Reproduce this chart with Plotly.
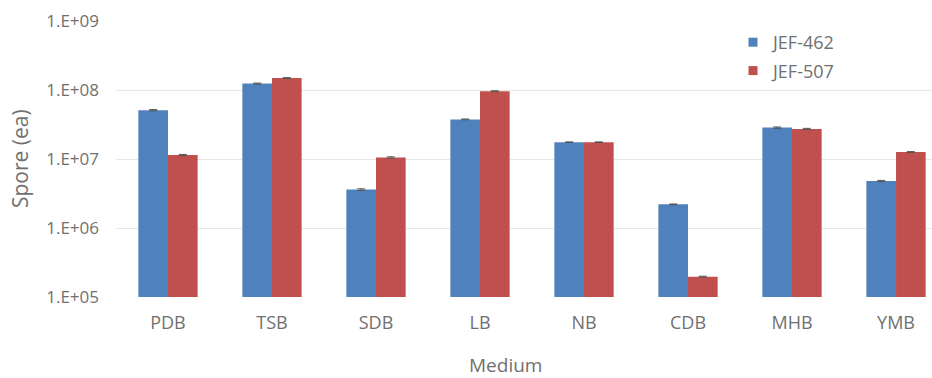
import plotly.graph_objects as go

# Spore counts per culture medium for two strains
media = ["PDB", "TSB", "SDB", "LB", "NB", "CDB", "MHB", "YMB"]
jef_462 = [5.1e7, 1.24e8, 3.6e6, 3.75e7, 1.75e7, 2.2e6, 2.85e7, 4.8e6]
jef_507 = [1.14e7, 1.49e8, 1.05e7, 9.6e7, 1.75e7, 1.97e5, 2.72e7, 1.26e7]
err_462 = [1.0e6, 2.0e6, 1.0e5, 5.0e5, 2.0e5, 3.0e4, 6.0e5, 1.0e5]
err_507 = [2.5e5, 2.0e6, 2.5e5, 1.5e6, 2.0e5, 3.0e3, 6.0e5, 2.0e5]

tick_vals = [1e5, 1e6, 1e7, 1e8, 1e9]
tick_text = ["1.E+05", "1.E+06", "1.E+07", "1.E+08", "1.E+09"]

BLUE = "#4F81BD"
RED = "#C0504D"
GREY_TXT = "#707070"
FONT = "Open Sans"

W, H = 932, 378
L, R, T, B = 116, 0, 21, 81
PW, PH = W - L - R, H - T - B

fig = go.Figure()
fig.add_trace(go.Bar(
    x=media, y=jef_462, name="JEF-462", marker_color=BLUE, marker_line_width=0,
    error_y=dict(type="data", array=err_462, color="#555555", thickness=1, width=4),
    showlegend=False,
))
fig.add_trace(go.Bar(
    x=media, y=jef_507, name="JEF-507", marker_color=RED, marker_line_width=0,
    error_y=dict(type="data", array=err_507, color="#555555", thickness=1, width=4),
    showlegend=False,
))
# legend keys with small square swatches
for name, col in [("JEF-462", BLUE), ("JEF-507", RED)]:
    fig.add_trace(go.Scatter(
        x=[None], y=[None], mode="markers", name=name, legendgroup=name,
        marker=dict(symbol="square", size=9, color=col),
    ))

fig.update_layout(
    width=W, height=H,
    margin=dict(l=L, r=R, t=T, b=B),
    paper_bgcolor="white", plot_bgcolor="white",
    barmode="group", bargap=0.43, bargroupgap=0,
    font=dict(family=FONT, color=GREY_TXT, size=17),
    legend=dict(
        x=(733 - L) / PW, y=1.0 - 3 / PH, xanchor="left", yanchor="top",
        font=dict(size=18, color=GREY_TXT),
        itemwidth=30, tracegroupgap=2, bgcolor="rgba(0,0,0,0)",
    ),
    annotations=[
        dict(text="Medium", xref="paper", yref="paper",
             x=(505 - L) / PW, y=-(365 - (H - B)) / PH,
             xanchor="center", yanchor="middle", showarrow=False,
             font=dict(size=19, color=GREY_TXT)),
        dict(text="Spore (ea)", xref="paper", yref="paper",
             x=-(L - 20) / PW, y=0.5, textangle=-90,
             xanchor="center", yanchor="middle", showarrow=False,
             font=dict(size=21, color=GREY_TXT)),
    ],
)
fig.update_xaxes(
    range=[-0.5, 7.346], showgrid=False, showline=False, zeroline=False,
    ticks="", ticklabelstandoff=13, tickfont=dict(size=18),
)
fig.update_yaxes(
    type="log", range=[5, 9], tickvals=tick_vals, ticktext=tick_text,
    showgrid=True, gridcolor="#e6e6e6", gridwidth=1, zeroline=False,
    showline=False, ticks="", ticklabelstandoff=16, tickfont=dict(size=17),
)

fig.write_html("out.html")
